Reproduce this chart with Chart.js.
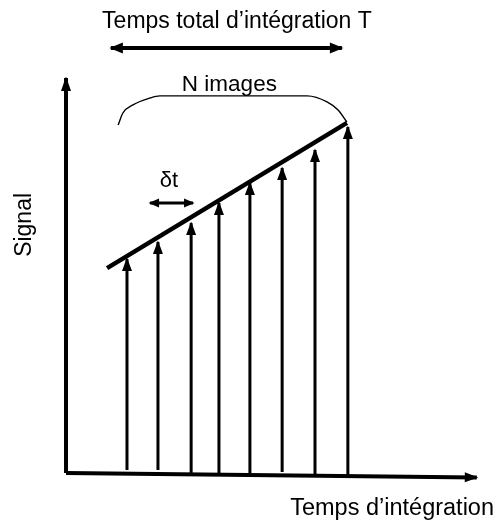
<!DOCTYPE html>
<html lang="fr">
<head>
<meta charset="utf-8">
<title>Signal / Temps d'intégration</title>
<script src="https://cdn.jsdelivr.net/npm/chart.js@4"></script>
<style>
  html, body { margin:0; padding:0; background:#fff; }
  #wrap { width:496px; height:520px; position:relative; }
</style>
</head>
<body>
<div id="wrap"><canvas id="chart"></canvas></div>
<script>
// ===== DATA (time in δt units, signal in arbitrary units) =====
const frameTimes    = [1.93, 2.91, 3.96, 4.84, 5.82, 6.84, 7.88, 8.92];
const frameSignal   = [7.13, 7.70, 8.33, 9.00, 9.67, 10.17, 10.77, 11.53];
const frameBase     = [0.10, 0.10, -0.10, -0.03, 0.00, 0.03, -0.07, -0.07];
const trendTimes    = [1.30, 8.89];
const trendSignal   = [6.83, 11.67];
const bracketTimes  = [1.65, 1.80, 2.12, 2.66, 2.97, 7.63, 8.26, 8.61, 8.89];
const bracketSignal = [11.60, 12.00, 12.27, 12.50, 12.57, 12.57, 12.37, 12.10, 11.70];
const totalSpan     = [1.42, 8.73];   // T
const totalLevel    = 14.17;
const stepSpan      = [2.66, 4.02];   // δt
const stepLevel     = 9.00;
const axisTimeMax   = 13.0;
const axisTimeDrop  = -0.15;
const axisSignalMax = 13.17;

const texts = [
  {text:"Temps total d’intégration T", x:5.41, y:14.83, align:"center", size:23},
  {text:"N images", x:5.17, y:12.73, align:"center", size:22.5},
  {text:"δt", x:3.26, y:9.53, align:"center", size:22},
  {text:"Temps d’intégration", x:10.32, y:-1.40, align:"center", size:23.5},
  {text:"Signal", x:-1.11, y:8.27, align:"center", size:23, rotate:true},
];

const FONT = "'Liberation Sans', Arial, Helvetica, sans-serif";

// ===== helpers =====
function line(points, width, extra={}){
  return Object.assign({
    data: points,
    showLine: true,
    borderColor: "#000",
    backgroundColor: "#000",
    borderWidth: width,
    pointRadius: 0,
    tension: 0,
    borderCapStyle: "butt",
  }, extra);
}

function head(ctx, from, to, len, half){
  const dx = to.x - from.x, dy = to.y - from.y;
  const d = Math.hypot(dx, dy) || 1;
  const ux = dx / d, uy = dy / d;
  const bx = to.x - ux * len, by = to.y - uy * len;
  ctx.beginPath();
  ctx.moveTo(to.x + ux * 1.5, to.y + uy * 1.5);
  ctx.lineTo(bx - uy * half, by + ux * half);
  ctx.lineTo(bx + uy * half, by - ux * half);
  ctx.closePath();
  ctx.fill();
}

const arrowPlugin = {
  id: "arrows",
  beforeDraw(chart){
    const c = chart.ctx;
    c.save();
    c.fillStyle = "#fff";
    c.fillRect(0, 0, chart.width, chart.height);
    c.restore();
  },
  afterDatasetsDraw(chart){
    const ctx = chart.ctx;
    ctx.save();
    ctx.fillStyle = "#000";
    chart.data.datasets.forEach((ds, i) => {
      if(!ds.arrow) return;
      const pts = chart.getDatasetMeta(i).data;
      const n = pts.length;
      head(ctx, pts[n-2], pts[n-1], ds.headLen, ds.headHalf);
      if(ds.arrow === "both") head(ctx, pts[1], pts[0], ds.headLen, ds.headHalf);
    });
    const xs = chart.scales.x, ys = chart.scales.y;
    texts.forEach(t => {
      ctx.font = `${t.size}px ${FONT}`;
      ctx.textAlign = t.align;
      ctx.textBaseline = "alphabetic";
      const px = xs.getPixelForValue(t.x), py = ys.getPixelForValue(t.y);
      if(t.rotate){
        ctx.save();
        ctx.translate(px, py);
        ctx.rotate(-Math.PI / 2);
        ctx.fillText(t.text, 0, 0);
        ctx.restore();
      } else {
        ctx.fillText(t.text, px, py);
      }
    });
    ctx.restore();
  }
};

// ===== datasets =====
const datasets = [];
// axes
datasets.push(line([{x:0, y:0}, {x:0, y:axisSignalMax}], 4, {arrow:"end", headLen:13, headHalf:5}));
datasets.push(line([{x:0, y:0}, {x:axisTimeMax, y:axisTimeDrop}], 4, {arrow:"end", headLen:12, headHalf:5}));
// frames (one arrow per image)
frameTimes.forEach((t, i) => {
  datasets.push(line([{x:t, y:frameBase[i]}, {x:t, y:frameSignal[i]}], 3, {arrow:"end", headLen:12, headHalf:5}));
});
// accumulated signal trend
datasets.push(line(trendTimes.map((t, i) => ({x:t, y:trendSignal[i]})), 4.5));
// N images bracket
datasets.push(line(bracketTimes.map((t, i) => ({x:t, y:bracketSignal[i]})), 1.4, {cubicInterpolationMode:"monotone"}));
// total integration time T
datasets.push(line([{x:totalSpan[0], y:totalLevel}, {x:totalSpan[1], y:totalLevel}], 4, {arrow:"both", headLen:12, headHalf:5.5}));
// δt
datasets.push(line([{x:stepSpan[0], y:stepLevel}, {x:stepSpan[1], y:stepLevel}], 3, {arrow:"both", headLen:9, headHalf:4.5}));

new Chart(document.getElementById("chart"), {
  type: "scatter",
  data: { datasets },
  options: {
    responsive: true,
    maintainAspectRatio: false,
    animation: false,
    events: [],
    layout: { padding: 0 },
    plugins: { legend: {display:false}, tooltip: {enabled:false} },
    scales: {
      x: { type:"linear", display:false, min:-2.089, max:13.608 },
      y: { type:"linear", display:false, min:-1.567, max:15.767 }
    }
  },
  plugins: [arrowPlugin]
});
</script>
</body>
</html>
